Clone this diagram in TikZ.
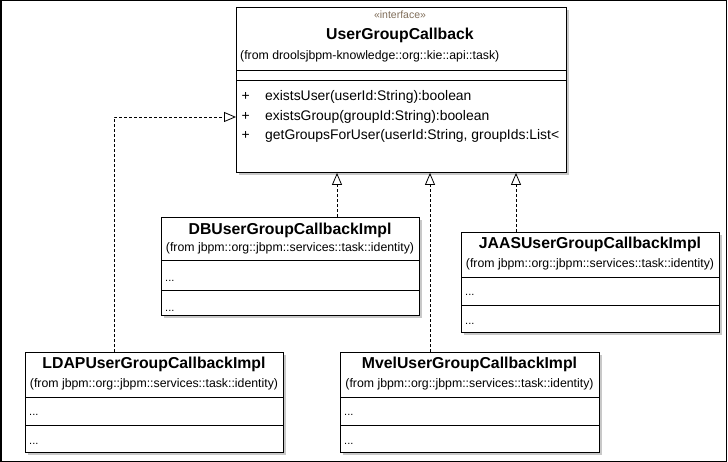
\documentclass[tikz,border=0pt]{standalone}
\usepackage{fontspec}
\setmainfont{Liberation Sans}
\usetikzlibrary{arrows.meta,shadows}
\definecolor{stereo}{RGB}{128,110,90}
\definecolor{shade}{RGB}{200,200,200}
\tikzset{
  umlbox/.style={draw=black, line width=0.9pt, fill=white, anchor=north west, inner sep=0pt,
    drop shadow={shadow xshift=3pt, shadow yshift=-3pt, fill=shade, opacity=1}},
  sepline/.style={draw=black, line width=0.9pt},
  titletext/.style={anchor=base, inner sep=0pt, font=\fontsize{15.8}{18}\selectfont\bfseries},
  fromtext/.style={anchor=base, inner sep=0pt, font=\fontsize{12.3}{14}\selectfont},
  dotstext/.style={anchor=base west, inner sep=0pt, font=\fontsize{11}{13}\selectfont},
  methtext/.style={anchor=base west, inner sep=0pt, font=\fontsize{13.9}{16}\selectfont},
  stereotext/.style={anchor=base, inner sep=0pt, text=stereo, font=\fontsize{10.5}{12}\selectfont},
  impl/.style={draw=black, line width=0.8pt, dash pattern=on 3pt off 2pt,
    -{Triangle[open, length=12pt, width=10pt, line width=0.8pt]}},
}
\begin{document}
\begin{tikzpicture}[x=1pt, y=-1pt]
\useasboundingbox (0,0) rectangle (728,462);
\draw[line width=1.5pt] (0.75,0.75) rectangle (726.5,461.25);

% main interface
\node[umlbox, minimum width=330pt, minimum height=165pt] (main) at (236,7) {};
\draw[sepline] (236,70) -- (566,70);
\draw[sepline] (236,80) -- (566,80);
\node[stereotext] (mst) at (400,18.5) {«interface»};
\node[titletext] (mtitle) at (400,40) {UserGroupCallback};
\node[fromtext, anchor=base west] (mfrom) at (240,60) {(from droolsjbpm-knowledge::org::kie::api::task)};
\node[methtext] (p1) at (241.5,101) {+};
\node[methtext] (p2) at (241.5,121) {+};
\node[methtext] (p3) at (241.5,140) {+};
\node[methtext] (m1) at (265,101) {existsUser(userId:String):boolean};
\node[methtext] (m2) at (265,121) {existsGroup(groupId:String):boolean};
\begin{scope}
\clip (236,80) rectangle (561,172);
\node[methtext] (m3) at (265,140) {getGroupsForUser(userId:String, groupIds:List<};
\end{scope}

% DB
\node[umlbox, minimum width=258pt, minimum height=98pt] (db) at (161,217) {};
\draw[sepline] (161,260) -- (419,260);
\draw[sepline] (161,290) -- (419,290);
\node[titletext] (dbt) at (290,235) {DBUserGroupCallbackImpl};
\node[fromtext] (dbf) at (290,252) {(from jbpm::org::jbpm::services::task::identity)};
\node[dotstext] (dbd1) at (165,281.5) {...};
\node[dotstext] (dbd2) at (165,311.5) {...};

% JAAS
\node[umlbox, minimum width=258pt, minimum height=100pt] (jaas) at (461,232) {};
\draw[sepline] (461,277) -- (719,277);
\draw[sepline] (461,305) -- (719,305);
\node[titletext] (jt) at (590,249) {JAASUserGroupCallbackImpl};
\node[fromtext] (jf) at (590,268) {(from jbpm::org::jbpm::services::task::identity)};
\node[dotstext] (jd1) at (465,296) {...};
\node[dotstext] (jd2) at (465,324.5) {...};

% LDAP
\node[umlbox, minimum width=258pt, minimum height=100pt] (ldap) at (25,352) {};
\draw[sepline] (25,397) -- (283,397);
\draw[sepline] (25,425) -- (283,425);
\node[titletext] (lt) at (154,368) {LDAPUserGroupCallbackImpl};
\node[fromtext] (lf) at (154,387) {(from jbpm::org::jbpm::services::task::identity)};
\node[dotstext] (ld1) at (29,415) {...};
\node[dotstext] (ld2) at (29,444) {...};

% Mvel
\node[umlbox, minimum width=259pt, minimum height=100pt] (mvel) at (340,352) {};
\draw[sepline] (340,397) -- (599,397);
\draw[sepline] (340,425) -- (599,425);
\node[titletext] (mt) at (469.5,368) {MvelUserGroupCallbackImpl};
\node[fromtext] (mf) at (469.5,387) {(from jbpm::org::jbpm::services::task::identity)};
\node[dotstext] (md1) at (344,415) {...};
\node[dotstext] (md2) at (344,444) {...};

% connectors
\coordinate (dbc) at ([xshift=176pt]db.north west);
\coordinate (jc) at ([xshift=55pt]jaas.north west);
\coordinate (mc) at ([xshift=90pt]mvel.north west);
\coordinate (lc) at ([xshift=89pt]ldap.north west);
\draw[impl] (dbc) -- (dbc |- main.south);
\draw[impl] (jc) -- (jc |- main.south);
\draw[impl] (mc) -- (mc |- main.south);
\draw[impl] (lc) |- (main.west |- 0,117);
\end{tikzpicture}
\end{document}
